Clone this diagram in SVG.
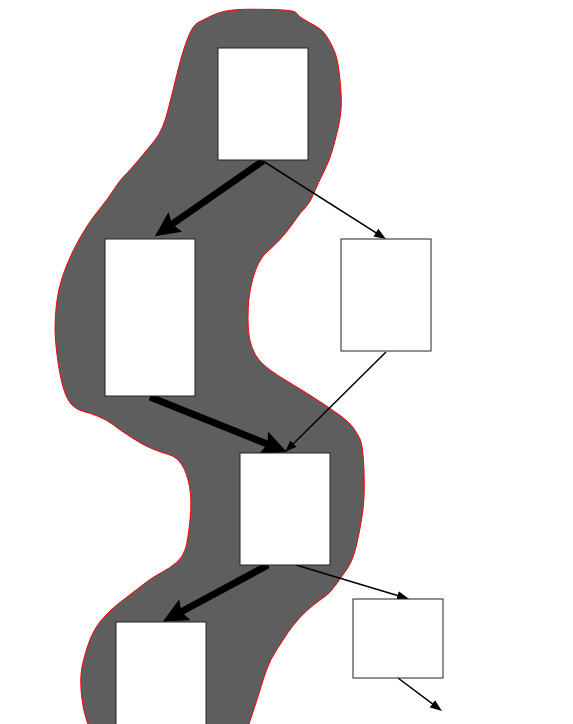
<svg xmlns="http://www.w3.org/2000/svg" width="573" height="724" viewBox="0 0 573 724">
<style>
.node rect{fill:#fff;stroke:#222;stroke-width:1}
.thick{stroke:#000;stroke-width:7;fill:none}
.thin{stroke:#000;stroke-width:1.5;fill:none}
</style>
<defs>
<marker id="bigArrow" markerUnits="userSpaceOnUse" markerWidth="28" markerHeight="26" refX="9" refY="12" orient="auto" viewBox="0 0 28 26">
<path d="M0,0 L25,12 L0,24 L4,12 Z" fill="#000"/>
</marker>
<marker id="smallArrow" markerUnits="userSpaceOnUse" markerWidth="14" markerHeight="10" refX="6" refY="4.5" orient="auto" viewBox="0 0 14 10">
<path d="M0,0 L12,4.5 L0,9 Z" fill="#000"/>
</marker>
</defs>
<rect width="573" height="724" fill="#fff"/>
<g id="region">
<path d="M240,9.5 Q250,9 272.5,9.5 Q295,10 296.5,13 Q298,16 304,19.5 Q310,23 316.5,26.5 Q323,30 327.5,37.5 Q332,45 335,52.5 Q338,60 340,80 Q342,100 341,110 Q340,120 338.5,126.5 Q337,133 333.5,146.5 Q330,160 324,171.5 Q318,183 314,193 Q310,203 305,208 Q300,213 296,219 Q292,225 286,232.5 Q280,240 273.5,246 Q267,252 264.5,254.5 Q262,257 258.5,263.5 Q255,270 252.5,280 Q250,290 249,298.5 Q248,307 248,318.5 Q248,330 249.5,338.5 Q251,347 255.5,355 Q260,363 270,370 Q280,377 293.5,385 Q307,393 322,403 Q337,413 343.5,418 Q350,423 353.5,428 Q357,433 360,439 Q363,445 364,471 Q365,497 362.5,513.5 Q360,530 356.5,545 Q353,560 348,567.5 Q343,575 336.5,584 Q330,593 325,596.5 Q320,600 313.5,605 Q307,610 300,617.5 Q293,625 288,632.5 Q283,640 276.5,650 Q270,660 266.5,670 Q263,680 260,690 Q257,700 252,715 L247,730 L90,730 L86.5,720 Q83,710 81.5,695 Q80,680 81.5,670 Q83,660 88,645 Q93,630 101.5,620 Q110,610 118.5,603.5 Q127,597 133.5,592 Q140,587 146.5,582 Q153,577 161.5,572.5 Q170,568 176.5,562.5 Q183,557 185.5,548.5 Q188,540 190,520 Q192,500 189.5,486.5 Q187,473 182,465 Q177,457 168.5,454.5 Q160,452 151.5,448.5 Q143,445 131.5,437.5 Q120,430 113.5,425 Q107,420 98.5,416.5 Q90,413 83.5,411.5 Q77,410 72,405 Q67,400 63.5,388.5 Q60,377 57.5,358.5 Q55,340 55,328.5 Q55,317 56.5,303.5 Q58,290 62.5,276.5 Q67,263 73.5,250 Q80,237 86.5,227 Q93,217 100,208.5 Q107,200 113.5,190 Q120,180 125,175 Q130,170 138.5,160 Q147,150 155,140 Q163,130 168,110 Q173,90 178,70 Q183,50 188,37.5 Q193,25 198,22.5 Q203,20 210,16.5 Q217,13 223.5,11.5 Q230,10 240,9.5 Z" fill="#5e5e5e" stroke="#ff0000" stroke-width="1" stroke-linejoin="round"/>
</g>
<g id="connectors">
<path class="thick" d="M263,161 L168,227" marker-end="url(#bigArrow)"/>
<path class="thick" d="M150,397 L272,446" marker-end="url(#bigArrow)"/>
<path class="thick" d="M268,565 L177,614" marker-end="url(#bigArrow)"/>
<path class="thin" d="M263,161 L380.9,235.8" marker-end="url(#smallArrow)"/>
<path class="thin" d="M386,352 L289.3,447.8" marker-end="url(#smallArrow)"/>
<path class="thin" d="M296,565 L403.3,597.3" marker-end="url(#smallArrow)"/>
<path class="thin" d="M398,678 L437.2,707.4" marker-end="url(#smallArrow)"/>
</g>
<g id="nodeA" class="node"><rect x="218" y="48" width="90" height="112"/></g>
<g id="nodeB" class="node"><rect x="105" y="239" width="90" height="157"/></g>
<g id="nodeC" class="node"><rect x="341" y="239" width="90" height="112"/></g>
<g id="nodeD" class="node"><rect x="240" y="453" width="90" height="112"/></g>
<g id="nodeE" class="node"><rect x="116" y="622" width="90" height="112"/></g>
<g id="nodeF" class="node"><rect x="353" y="599" width="90" height="79"/></g>
</svg>
